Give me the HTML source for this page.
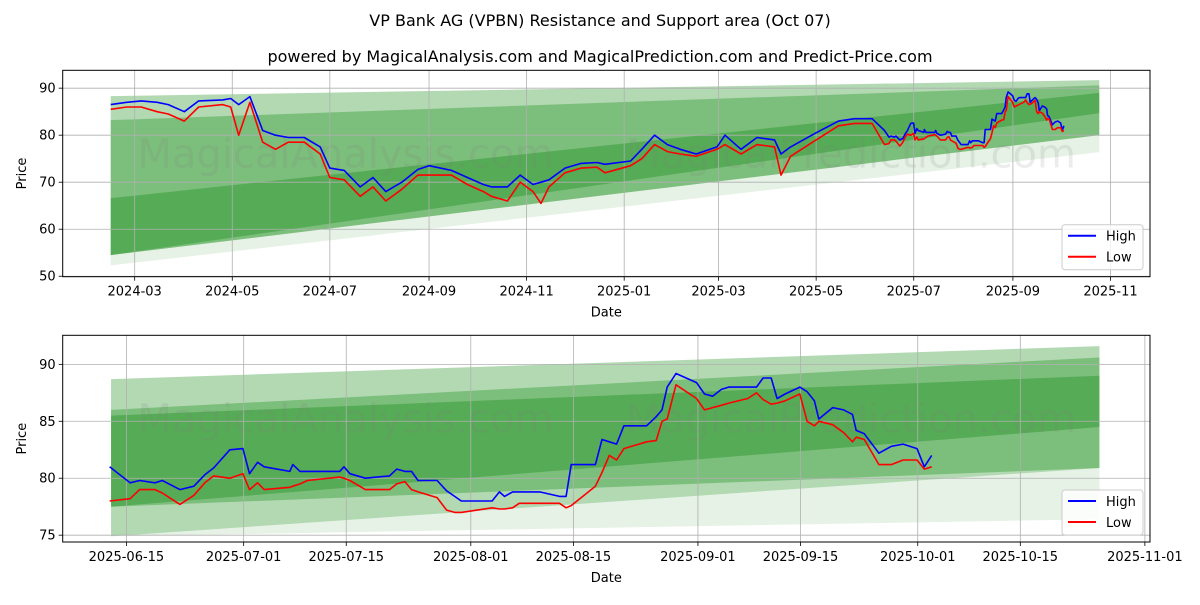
<!DOCTYPE html>
<html><head><meta charset="utf-8"><style>
body{margin:0;background:#fff;width:1200px;height:600px;overflow:hidden;font-family:"Liberation Sans","DejaVu Sans",sans-serif}
svg text{font-family:"DejaVu Sans","Liberation Sans",sans-serif}
</style></head><body>
<svg id="chart" width="1200" height="600" xmlns="http://www.w3.org/2000/svg">
<text x="600" y="26" text-anchor="middle" font-size="16">VP Bank AG (VPBN) Resistance and Support area (Oct 07)</text>
<text x="600" y="62" text-anchor="middle" font-size="16">powered by MagicalAnalysis.com and MagicalPrediction.com and Predict-Price.com</text>
</svg>
<script>
// ---- top chart data (dates, high, low) ----
const topDates=["2024-02-15","2024-02-25","2024-03-05","2024-03-15","2024-03-22","2024-04-01","2024-04-10","2024-04-25","2024-04-30","2024-05-05","2024-05-12","2024-05-20","2024-05-28","2024-06-05","2024-06-15","2024-06-25","2024-07-01","2024-07-10","2024-07-20","2024-07-28","2024-08-05","2024-08-15","2024-08-25","2024-09-01","2024-09-15","2024-09-25","2024-10-05","2024-10-10","2024-10-20","2024-10-28","2024-11-05","2024-11-10","2024-11-15","2024-11-25","2024-12-05","2024-12-15","2024-12-20","2025-01-05","2025-01-12","2025-01-20","2025-01-28","2025-02-05","2025-02-15","2025-02-28","2025-03-05","2025-03-15","2025-03-25","2025-04-05","2025-04-09","2025-04-15","2025-05-01","2025-05-15","2025-05-25","2025-06-05"];
const topHigh=[86.5,87,87.3,87,86.5,85,87.3,87.5,87.8,86.5,88.2,81,80,79.5,79.5,77.5,73,72.5,69,71,68,70,72.7,73.5,72.5,71,69.5,69,69,71.5,69.5,70,70.5,73,74,74.2,73.8,74.5,77,80,78,77,76,77.5,80,77,79.5,79,76,77.5,80.5,83,83.5,83.5];
const topLow=[85.5,86,86,85,84.5,83,86,86.5,86,80,87,78.5,77,78.5,78.5,76,71,70.5,67,69,66,68.5,71.5,71.5,71.5,69.5,68,67,66,70,68,65.5,69,72,73,73.2,72,73.5,75,78,76.5,76,75.5,77,78,76,78,77.5,71.5,75.5,79,82,82.5,82.5];
// ---- bottom chart data (days after 2025-06-15, high, low) ----
const btmDays=[-2.3,0.5,1.8,3.9,4.9,7.3,9.2,10.7,11.9,14.1,15.9,16.8,17.9,18.8,22.3,22.7,23.7,24.7,29.1,29.7,30.5,32.6,35.9,36.9,38.0,38.9,39.8,42.4,43.7,44.8,45.7,49.9,50.9,51.6,52.7,53.6,56.4,59.1,60.0,60.7,64.0,64.9,65.9,66.9,67.9,71.0,72.3,73.1,73.8,75.0,77.8,78.9,80.0,81.2,82.2,84.8,86.0,86.9,88.0,88.8,89.9,91.9,92.9,93.9,94.5,96.4,97.9,99.1,99.6,100.7,102.7,104.4,106.0,107.9,108.9,109.9];
const btmHigh=[81,79.6,79.8,79.6,79.8,79,79.3,80.3,80.9,82.5,82.6,80.4,81.4,81,80.6,81.2,80.6,80.6,80.6,81,80.4,80,80.2,80.8,80.6,80.6,79.8,79.8,78.9,78.4,78,78,78.8,78.4,78.8,78.8,78.8,78.4,78.4,81.2,81.2,83.4,83.2,83,84.6,84.6,85.4,86,88,89.2,88.4,87.4,87.2,87.8,88,88,88,88.8,88.8,87,87.4,88,87.6,86.8,85.2,86.2,86,85.6,84.2,83.9,82.2,82.8,83,82.6,81,82];
const btmLow=[78,78.2,79,79,78.7,77.7,78.5,79.6,80.2,80,80.4,79,79.6,79,79.2,79.3,79.5,79.8,80.1,80,79.8,79,79,79.5,79.7,79,78.8,78.3,77.2,77,77,77.4,77.3,77.3,77.4,77.8,77.8,77.8,77.4,77.6,79.3,80.5,82,81.6,82.6,83.2,83.3,85,85.2,88.2,87,86,86.2,86.4,86.6,87,87.5,86.9,86.5,86.6,86.8,87.4,85,84.6,85,84.7,84,83.2,83.6,83.4,81.2,81.2,81.6,81.6,80.8,81];
// ---- bands: [startValue, endValue] ----
const topBandLo1=[54.5,80], topBandHi1=[88.3,91.7];
const topBandLo2=[54.5,80], topBandHi2=[83.2,90.6];
const topBandLo3=[54.5,84.7], topBandHi3=[66.6,89];
const topBandLo4=[52.3,76.4], topBandHi4=[54.5,80];
const btmBandLo1=[77.5,80.9], btmBandHi1=[88.7,91.6];
const btmBandLo2=[74.9,80.9], btmBandHi2=[86,90.6];
const btmBandLo3=[77.5,84.5], btmBandHi3=[85.5,89];
const btmBandLo4=[74.9,76.4], btmBandHi4=[74.9,80.9];
const topYTicks=[50,60,70,80,90];
const btmYTicks=[75,80,85,90];
const topXTicks=["2024-03","2024-05","2024-07","2024-09","2024-11","2025-01","2025-03","2025-05","2025-07","2025-09","2025-11"];
const btmXTicks=["2025-06-15","2025-07-01","2025-07-15","2025-08-01","2025-08-15","2025-09-01","2025-09-15","2025-10-01","2025-10-15","2025-11-01"];

const NS="http://www.w3.org/2000/svg";
const svg=document.getElementById('chart');
function mk(tag,attrs,parent){const e=document.createElementNS(NS,tag);for(const k in attrs)e.setAttribute(k,attrs[k]);(parent||svg).appendChild(e);return e;}
const DAY=86400000;
function dnum(s){return Date.parse(s+(s.length===7?"-01":"")+"T00:00:00Z")/DAY;}

function drawPanel(cfg){
  const g=mk('g',{});
  
  
  const X=v=>cfg.L+(v-cfg.x0)/(cfg.x1-cfg.x0)*(cfg.R-cfg.L);
  const Y=v=>cfg.B-(v-cfg.y0)/(cfg.y1-cfg.y0)*(cfg.B-cfg.T);
  const clip=mk('clipPath',{id:cfg.name+'-clip'},g);
  mk('rect',{x:cfg.L,y:cfg.T,width:cfg.R-cfg.L,height:cfg.B-cfg.T},clip);
  cfg.bands.forEach((b,i)=>{
    const p=mk('polygon',{points:`${X(cfg.bx0)},${Y(b[0][0])} ${X(cfg.bx1)},${Y(b[0][1])} ${X(cfg.bx1)},${Y(b[1][1])} ${X(cfg.bx0)},${Y(b[1][0])}`,fill:'green','fill-opacity':b[2]},g);
    
    
  });
  [[cfg.L+(cfg.R-cfg.L)*0.26,'MagicalAnalysis.com'],[cfg.L+(cfg.R-cfg.L)*0.725,'MagicalPrediction.com']].forEach(w=>{
    const t=mk('text',{x:w[0],y:(cfg.T+cfg.B)/2-6,'text-anchor':'middle','font-size':40,fill:'#808080','fill-opacity':0.15},g);
    t.textContent=w[1];
    
    
  });
  cfg.yTicks.forEach(v=>{
    const y=Y(v);
    const l=mk('line',{x1:cfg.L,x2:cfg.R,y1:y,y2:y,stroke:'#b0b0b0','stroke-width':0.8},g);
    
    
    mk('line',{x1:cfg.L-4,x2:cfg.L,y1:y,y2:y,stroke:'#000','stroke-width':0.8},g);
    const t=mk('text',{x:cfg.L-7,y:y+4.5,'text-anchor':'end','font-size':13},g);
    t.textContent=v;
    
    
  });
  cfg.xTicks.forEach(s=>{
    const x=X(dnum(s));
    const l=mk('line',{x1:x,x2:x,y1:cfg.T,y2:cfg.B,stroke:'#b0b0b0','stroke-width':0.8},g);
    
    
    mk('line',{x1:x,x2:x,y1:cfg.B,y2:cfg.B+4,stroke:'#000','stroke-width':0.8},g);
    const t=mk('text',{x:x,y:cfg.B+19,'text-anchor':'middle','font-size':13},g);
    t.textContent=s;
    
    
  });
  [['high-line',cfg.hi,'#0000ff'],['low-line',cfg.lo,'#ff0000']].forEach(s=>{
    const pts=cfg.xs.map((d,i)=>X(d).toFixed(1)+','+Y(s[1][i]).toFixed(1)).join(' ');
    const pl=mk('polyline',{points:pts,fill:'none',stroke:s[2],'stroke-width':1.6,'stroke-linejoin':'round','clip-path':`url(#${cfg.name}-clip)`},g);
    
    
  });
  const fr=mk('rect',{x:cfg.L,y:cfg.T,width:cfg.R-cfg.L,height:cfg.B-cfg.T,fill:'none',stroke:'#000','stroke-width':1},g);
  
  
  const yl=mk('text',{x:0,y:0,'text-anchor':'middle','font-size':13,transform:`translate(26,${(cfg.T+cfg.B)/2}) rotate(-90)`},g);
  yl.textContent='Price';
  
  
  const xl=mk('text',{x:(cfg.L+cfg.R)/2,y:cfg.B+40,'text-anchor':'middle','font-size':13},g);
  xl.textContent='Date';
  
  
  const lg=mk('g',{},g);
  
  
  const lx=cfg.R-88, ly=cfg.B-52;
  mk('rect',{x:lx,y:ly,width:81,height:45,rx:3,fill:'#fff','fill-opacity':0.8,stroke:'#cccccc'},lg);
  [['High','#0000ff'],['Low','#ff0000']].forEach((e,i)=>{
    const eg=mk('g',{},lg);
    
    
    mk('line',{x1:lx+6,x2:lx+34,y1:ly+11+i*21,y2:ly+11+i*21,stroke:e[1],'stroke-width':2},eg);
    const t=mk('text',{x:lx+44,y:ly+16+i*21,'font-size':13},eg);
    t.textContent=e[0];
  });
}

const b0=dnum("2025-06-15");
const topXs=topDates.map(dnum).concat(btmDays.map(d=>b0+d));
const topHi=topHigh.concat(btmHigh), topLo=topLow.concat(btmLow);
const t0=dnum("2024-03-01");
drawPanel({name:'top-panel',L:62.7,R:1150,T:70.3,B:276.7,
  x0:t0-45,x1:t0+634.7,y0:49.9,y1:93.8,
  bx0:dnum("2024-02-15"),bx1:dnum("2025-10-25"),
  bands:[[topBandLo4,topBandHi4,0.1],[topBandLo1,topBandHi1,0.3],[topBandLo2,topBandHi2,0.3],[topBandLo3,topBandHi3,0.3]],
  yTicks:topYTicks,xTicks:topXTicks,xs:topXs,hi:topHi,lo:topLo});
drawPanel({name:'bottom-panel',L:62.7,R:1150,T:335.3,B:542,
  x0:b0-8.7,x1:b0+139.7,y0:74.4,y1:92.55,
  bx0:b0-2.1,bx1:b0+132.8,
  bands:[[btmBandLo4,btmBandHi4,0.1],[btmBandLo1,btmBandHi1,0.3],[btmBandLo2,btmBandHi2,0.3],[btmBandLo3,btmBandHi3,0.3]],
  yTicks:btmYTicks,xTicks:btmXTicks,xs:btmDays.map(d=>b0+d),hi:btmHigh,lo:btmLow});
</script>
</body></html>
